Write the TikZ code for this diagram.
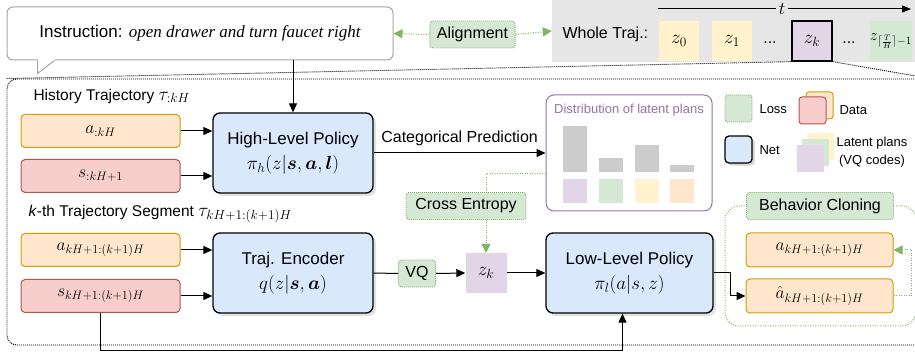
\RequirePackage{fix-cm}
\documentclass[tikz,border=0pt]{standalone}
\usepackage{amsmath,bm}
\usepackage{fontspec}
\setmainfont{Liberation Sans}
\newfontfamily\instrfont{Liberation Serif}
\usetikzlibrary{arrows.meta,positioning,calc,shadows}
\definecolor{netfill}{HTML}{DAE8FC}
\definecolor{actfill}{HTML}{FFE6CC}
\definecolor{actdraw}{HTML}{D79B00}
\definecolor{obsfill}{HTML}{F8CECC}
\definecolor{obsdraw}{HTML}{B85450}
\definecolor{lossfill}{HTML}{D5E8D4}
\definecolor{lossdraw}{HTML}{82B366}
\definecolor{planpurple}{HTML}{E1D5E7}
\definecolor{plangreen}{HTML}{D5E8D4}
\definecolor{planyellow}{HTML}{FFF2CC}
\definecolor{planorange}{HTML}{FFE6CC}
\definecolor{distdraw}{HTML}{9673A6}
\definecolor{bargray}{HTML}{CCCCCC}
\definecolor{bggray}{HTML}{E6E6E6}
\definecolor{bubbledraw}{HTML}{A6A6A6}
\newcommand{\formula}[1]{{\fontsize{19}{22}\selectfont$#1$}}

\begin{document}
\begin{tikzpicture}[x=1pt,y=-1pt,
  every node/.style={font=\fontsize{16}{19}\selectfont},
  databox/.style={rounded corners=4pt,line width=1pt,minimum width=159,minimum height=33,inner sep=0pt,
              font=\fontsize{17.5}{20}\selectfont},
  act/.style={databox,draw=actdraw,fill=actfill},
  obs/.style={databox,draw=obsdraw,fill=obsfill},
  net/.style={draw=black,line width=1.3pt,fill=netfill,rounded corners=7pt,
              minimum width=160,minimum height=80,align=center,
              font=\fontsize{17}{21}\selectfont,
              drop shadow={shadow xshift=3pt,shadow yshift=-3pt,fill=black!22}},
  loss/.style={draw=lossdraw,fill=lossfill,dash pattern=on 1pt off 1pt,line width=0.9pt,
              rounded corners=3pt,minimum height=27,inner xsep=7pt},
  code/.style={minimum width=40,minimum height=40,inner sep=0pt,font=\fontsize{19}{22}\selectfont},
  chip/.style={minimum width=27,minimum height=27,inner sep=0pt,rounded corners=3pt},
  legend/.style={anchor=west,font=\fontsize{13}{16}\selectfont},
  arr/.style={-{Triangle[length=9pt,width=8pt]},line width=1pt},
  lossdots/.style={lossdraw,line width=1pt,dash pattern=on 1pt off 1.5pt},
  lossarr/.style={lossdots,-{Triangle[length=9pt,width=9pt]}},
  zoomline/.style={line width=0.9pt,dash pattern=on 1pt off 1pt}]
  \useasboundingbox (0,0) rectangle (915,352);
  \node[fill=bggray,minimum width=363,minimum height=62,inner sep=0pt] (whole) at (733.5,31) {};
  \node[draw,zoomline,rounded corners=10pt,minimum width=923,minimum height=266] (frame) at (468.5,212) {};

  \node[draw=bubbledraw,line width=1pt,fill=white,rounded corners=6pt,minimum width=386,minimum height=53,
        font=\fontsize{17}{20}\selectfont] (instr) at (200,33.5)
        {Instruction: {\instrfont\itshape open drawer and turn faucet right}};
  \fill[white] ($(instr.south west)+(31,-2)$) rectangle ($(instr.south west)+(48,1.5)$);
  \draw[bubbledraw,line width=1pt] ($(instr.south west)+(31,0)$) -- ++(0,13) -- ($(instr.south west)+(48,0)$);

  \node[loss] (align) at (472.5,34.5) {Alignment};
  \draw[lossarr] (align.west) -- (instr.east);
  \draw[lossarr] (align.east) -- (whole.west);

  \node[anchor=west] (wlabel) at (559,34) {Whole Traj.:};
  \node[code,fill=planyellow] (z0) at (679,41) {$z_0$};
  \node[code,fill=planyellow] (z1) at (732,41) {$z_1$};
  \node (dots1) at (770,43) {...};
  \node[code,fill=planpurple,draw=black,line width=1.3pt] (zk) at (812,41) {$z_k$};
  \node (dots2) at (849,43) {...};
  \node[code,fill=plangreen,font=\fontsize{16}{18}\selectfont] (zend) at (891,41) {$z_{\lceil\frac{T}{H}\rceil-1}$};
  \coordinate (tstart) at (658,9);
  \coordinate (tend) at (911,9);
  \draw[arr,-{Triangle[length=9pt,width=7pt]}] (tstart) -- node[pos=0.49,fill=bggray,inner sep=3pt,font=\fontsize{18}{20}\selectfont]{$t$} (tend);
  \draw[zoomline] (frame.north west) -- (zk.south west);
  \draw[zoomline] (zk.south east) -- (frame.north east);

  \node[anchor=west,font=\fontsize{15.5}{18}\selectfont] (histlabel) at (30,96) {History Trajectory \formula{\tau_{:kH}}};
  \node[act] (a1) at (100.5,131) {$a_{:kH}$};
  \node[obs] (s1) at (100.5,176) {$s_{:kH+1}$};
  \node[anchor=west,font=\fontsize{15.5}{18}\selectfont] (seglabel) at (25,214) {\textit{k}-th Trajectory Segment \formula{\tau_{kH+1:(k+1)H}}};
  \node[act] (a2) at (100.5,250) {$a_{kH+1:(k+1)H}$};
  \node[obs] (s2) at (100.5,296) {$s_{kH+1:(k+1)H}$};

  \node[net] (hp) at (293,153) {High-Level Policy\\[4pt]\formula{\pi_h(z|\bm{s},\bm{a},\bm{l})}};
  \node[net] (enc) at (293,273) {Traj. Encoder\\[4pt]\formula{q(z|\bm{s},\bm{a})}};
  \node[net,minimum width=167] (lp) at (629.5,273) {Low-Level Policy\\[4pt]\formula{\pi_l(a|s,z)}};

  \draw[arr] (a1.east) -- (a1.east -| hp.west);
  \draw[arr] (s1.east) -- (s1.east -| hp.west);
  \draw[arr] (a2.east) -- (a2.east -| enc.west);
  \draw[arr] (s2.east) -- (s2.east -| enc.west);
  \draw[arr] (instr.south -| hp.north) -- (hp.north);

  \node[draw=distdraw,line width=1pt,rounded corners=8pt,fill=white,minimum width=166,minimum height=116] (dist) at (629,153) {};
  \node[text=distdraw,font=\fontsize{13}{16}\selectfont] (disttitle) at (629,110) {Distribution of latent plans};
  \foreach \x/\h/\c in {575/46/planpurple,611/14/plangreen,647/27/planyellow,682/7/planorange}{
    \fill[bargray] (\x-12,172-\h) rectangle (\x+12,172);
    \fill[\c] (\x-12,179) rectangle (\x+12,203);
  }
  \draw[arr] (hp.east) -- node[above=3pt]{Categorical Prediction} (dist.west);

  \node[loss] (vq) at (417,273.5) {VQ};
  \node[code,fill=planpurple,minimum width=41] (zcode) at (486,273) {$z_k$};
  \draw[line width=1pt] (enc.east) -- (vq.west);
  \draw[arr] (vq.east) -- (zcode.west);
  \draw[arr] (zcode.east) -- (lp.west);
  \draw[arr] (s2.south) -- ++(0,37) -| ([xshift=-7pt]lp.south);

  \node[loss,minimum width=120] (ce) at (466,206) {Cross Entropy};
  \draw[lossdots] ([yshift=-21pt]dist.west) -| ([xshift=20pt]ce.north);
  \draw[lossarr] ([xshift=20pt]ce.south) -- (zcode.north);

  \node[chip,loss,dash pattern=on 1pt off 1pt] (losskey) at (738.5,108.5) {};
  \node[legend] (losstext) at (756,109) {Loss};
  \node[chip,draw=actdraw,fill=actfill,line width=1pt] (datakey2) at (819.5,105.5) {};
  \node[chip,draw=obsdraw,fill=obsfill,line width=1pt] (datakey) at (812.5,110.5) {};
  \node[legend] (datatext) at (836,110) {Data};
  \node[chip,net,minimum width=27,minimum height=27,rounded corners=4pt,
        drop shadow={shadow xshift=2pt,shadow yshift=-2pt,fill=black!22}] (netkey) at (738.5,149.5) {};
  \node[legend] (nettext) at (756,150) {Net};
  \node[chip,fill=planyellow,rounded corners=0pt] (plankey3) at (820.5,146.5) {};
  \node[chip,fill=plangreen,rounded corners=0pt] (plankey2) at (815.5,153) {};
  \node[chip,fill=planpurple,rounded corners=0pt] (plankey) at (810.5,158.5) {};
  \node[align=center,font=\fontsize{13}{18}\selectfont] (plantext) at (872,152) {Latent plans\\(VQ codes)};

  \draw[lossdots,rounded corners=14pt] (725,206) rectangle (916,326);
  \node[loss,minimum width=147] (bc) at (820,206) {Behavior Cloning};
  \node[act,minimum width=147,minimum height=34] (a3) at (819.5,250) {$a_{kH+1:(k+1)H}$};
  \node[act,minimum width=147,minimum height=34] (ahat) at (819.5,296) {$\hat{a}_{kH+1:(k+1)H}$};
  \draw[arr] (lp.east) -- ++(17,0) |- (ahat.west);
  \draw[lossarr] (ahat.east) -- ++(18,0) |- (a3.east);
\end{tikzpicture}
\end{document}
